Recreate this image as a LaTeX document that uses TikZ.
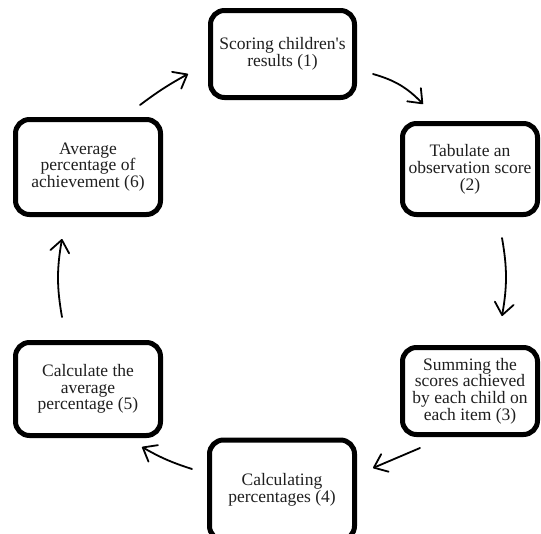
\documentclass[tikz,border=0pt]{standalone}
\usepackage{fontspec}
\setmainfont{Liberation Serif}
\usetikzlibrary{arrows.meta}
\begin{document}
\begin{tikzpicture}[x=1pt,y=-1pt,
  stepbox/.style={draw=black, line width=5pt, rounded corners=14pt, align=center,
    inner sep=0pt, font=\fontsize{17.5}{16.8}\selectfont, text=black!88},
  flow/.style={line width=1.8pt, line cap=round,
    -{Straight Barb[round,length=12pt,width=19pt]}}]
\useasboundingbox (0,0) rectangle (541,533);
\node[stepbox, minimum width=144pt, minimum height=87pt] (b1) at (282.5,54) {Scoring children\textquotesingle s\\results (1)};
\node[stepbox, minimum width=135pt, minimum height=91pt] (b2) at (470,169) {Tabulate an\\observation score\\(2)};
\node[stepbox, minimum width=135pt, minimum height=87pt] (b3) at (470,391) {Summing the\\scores achieved\\by each child on\\each item (3)};
\node[stepbox, minimum width=145pt, minimum height=100pt] (b4) at (282,490) {Calculating\\percentages (4)};
\node[stepbox, minimum width=145pt, minimum height=93pt] (b5) at (88,389) {Calculate the\\average\\percentage (5)};
\node[stepbox, minimum width=145pt, minimum height=95pt] (b6) at (88,167) {Average\\percentage of\\achievement (6)};
\coordinate (a1s) at (373,74);  \coordinate (a1e) at (423,104);
\coordinate (a2s) at (502,238); \coordinate (a2e) at (502,316);
\coordinate (a3s) at (420,448); \coordinate (a3e) at (373,468);
\coordinate (a4s) at (192,469); \coordinate (a4e) at (142,447);
\coordinate (a5s) at (62,317);  \coordinate (a5e) at (62,239);
\coordinate (a6s) at (140,105); \coordinate (a6e) at (188,74);
\draw[flow] (a1s) to[bend left=15] (a1e);
\draw[flow] (a2s) to[bend left=10] (a2e);
\draw[flow] (a3s) -- (a3e);
\draw[flow] (a4s) to[bend left=6] (a4e);
\draw[flow] (a5s) to[bend left=10] (a5e);
\draw[flow] (a6s) to[bend left=4] (a6e);
\end{tikzpicture}
\end{document}
